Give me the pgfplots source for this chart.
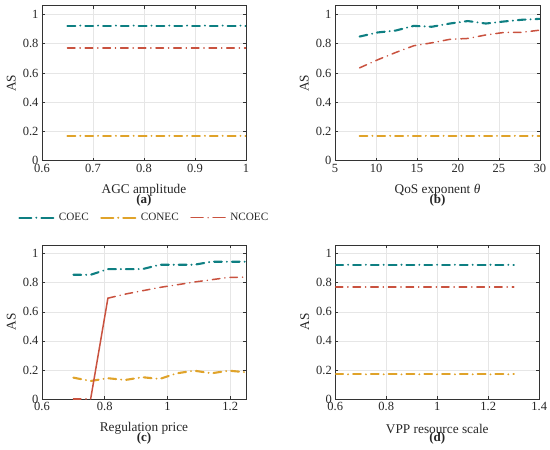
\documentclass[border=0pt]{standalone}
\usepackage{fontspec}
\setmainfont{Liberation Serif}
\usepackage{pgfplots}
\pgfplotsset{compat=1.18}
\definecolor{coec}{HTML}{0E7F82}
\definecolor{conec}{HTML}{E0A32A}
\definecolor{ncoec}{HTML}{C9523F}
\definecolor{framec}{HTML}{333333}
\definecolor{gridc}{HTML}{E6E6E6}
\newcommand{\tickfont}{\fontsize{12.5pt}{13pt}\selectfont}
\newcommand{\labfont}{\fontsize{13.3pt}{14pt}\selectfont}
\newcommand{\legfont}{\fontsize{11.2pt}{12pt}\selectfont}
\newcommand{\panfont}{\fontsize{13pt}{13pt}\selectfont\bfseries}
\pgfplotsset{
  panel/.style={
    scale only axis, width=204pt, height=155pt,
    clip mode=individual,
    ymin=0, ymax=1.06, ytick={0,0.2,0.4,0.6,0.8,1},
    grid=major, major grid style={gridc, line width=0.6pt},
    axis line style={framec, line width=0.8pt},
    tick style={framec, line width=0.6pt}, major tick length=3pt,
    tick align=inside,
    every tick label/.append style={font=\tickfont, text=black!85},
    /pgf/number format/assume math mode=true,
    ylabel={AS},
    every axis y label/.style={at={(axis description cs:-0.15,0.5)}, rotate=90, anchor=center, font=\labfont, text=black!85},
    every axis x label/.style={at={(axis description cs:0.5,-0.193)}, anchor=center, font=\labfont, text=black!85},
  },
  scoec/.style={coec, line width=2.1pt, line cap=round, dash pattern=on 7.8pt off 5pt on 0pt off 5pt},
  sconec/.style={conec, line width=2.1pt, line cap=round, dash pattern=on 7.8pt off 5pt on 0pt off 5pt},
  sncoec/.style={ncoec, line width=1.5pt, line cap=round, dash pattern=on 7.5pt off 5pt on 0.2pt off 5pt},
}
\newcommand{\panellabel}[1]{\node[font=\panfont, text=black!85] at (axis description cs:0.5,-0.257) {#1};}
\begin{document}
\begin{tikzpicture}
\useasboundingbox (0,0) rectangle (550pt,-450pt);
% (a)
\begin{axis}[panel, at={(42pt,-160.7pt)}, anchor=south west, width=204pt,
  xmin=0.6, xmax=1, xtick={0.6,0.7,0.8,0.9,1},
  xlabel={AGC amplitude},
  legend columns=3,
  legend style={at={(0.5,-0.368)}, anchor=center, draw=none, fill=none,
    font=\legfont, text=black!85,
    /tikz/every even column/.append style={column sep=10pt},
    nodes={inner sep=1.5pt}},
  legend image code/.code={\draw[#1, dash pattern=on 12pt off 5pt on 0pt off 5pt] (0pt,0pt) -- (37pt,0pt);},
]
\addplot[scoec] coordinates {(0.65,0.924) (1,0.924)};
\addlegendentry{COEC}
\addplot[sconec] coordinates {(0.65,0.17) (1,0.17)};
\addlegendentry{CONEC}
\addplot[sncoec] coordinates {(0.65,0.77) (1,0.77)};
\addlegendentry{NCOEC}
\panellabel{(a)}
\end{axis}
% (b)
\begin{axis}[panel, at={(335pt,-160.7pt)}, anchor=south west, width=205pt,
  xmin=5, xmax=30, xtick={5,10,15,20,25,30},
  xlabel={QoS exponent {\itshape θ}},
]
\addplot[scoec] coordinates {(8,0.849) (10.2,0.877) (12.4,0.89) (14.6,0.922) (16.8,0.916) (19,0.938) (21.2,0.955) (23.4,0.938) (25.6,0.952) (27.8,0.964) (30,0.97)};
\addplot[sconec] coordinates {(8,0.17) (30,0.17)};
\addplot[sncoec] coordinates {(8,0.635) (10.2,0.69) (12.4,0.74) (14.6,0.786) (16.8,0.806) (19,0.83) (21.2,0.836) (23.4,0.86) (25.6,0.877) (27.8,0.878) (30,0.893)};
\panellabel{(b)}
\end{axis}
% (c)
\begin{axis}[panel, at={(42pt,-399pt)}, anchor=south west, width=204pt, height=154pt,
  xmin=0.6, xmax=1.25, xtick={0.6,0.8,1,1.2},
  xlabel={Regulation price},
]
\addplot[scoec] coordinates {(0.7,0.855) (0.755,0.855) (0.81,0.894) (0.865,0.894) (0.92,0.894) (0.975,0.924) (1.03,0.924) (1.085,0.924) (1.14,0.945) (1.195,0.945) (1.25,0.945)};
\addplot[sconec] coordinates {(0.7,0.147) (0.755,0.124) (0.81,0.143) (0.865,0.131) (0.92,0.15) (0.975,0.138) (1.03,0.177) (1.085,0.195) (1.14,0.177) (1.195,0.195) (1.25,0.184)};
\addplot[sncoec] coordinates {(0.7,0) (0.755,0)};
\addplot[ncoec, line width=1.5pt, line cap=round] coordinates {(0.755,0) (0.81,0.694)};
\addplot[sncoec] coordinates {(0.81,0.694) (0.865,0.722) (0.92,0.745) (0.975,0.768) (1.03,0.786) (1.085,0.805) (1.14,0.821) (1.195,0.837) (1.25,0.839)};
\panellabel{(c)}
\end{axis}
% (d)
\begin{axis}[panel, at={(335.3pt,-399pt)}, anchor=south west, width=204pt, height=154pt,
  xmin=0.6, xmax=1.4, xtick={0.6,0.8,1,1.2,1.4},
  xlabel={VPP resource scale},
]
\addplot[scoec] coordinates {(0.6,0.924) (1.3,0.924)};
\addplot[sconec] coordinates {(0.6,0.17) (1.3,0.17)};
\addplot[sncoec] coordinates {(0.6,0.77) (1.3,0.77)};
\panellabel{(d)}
\end{axis}
\end{tikzpicture}
\end{document}
